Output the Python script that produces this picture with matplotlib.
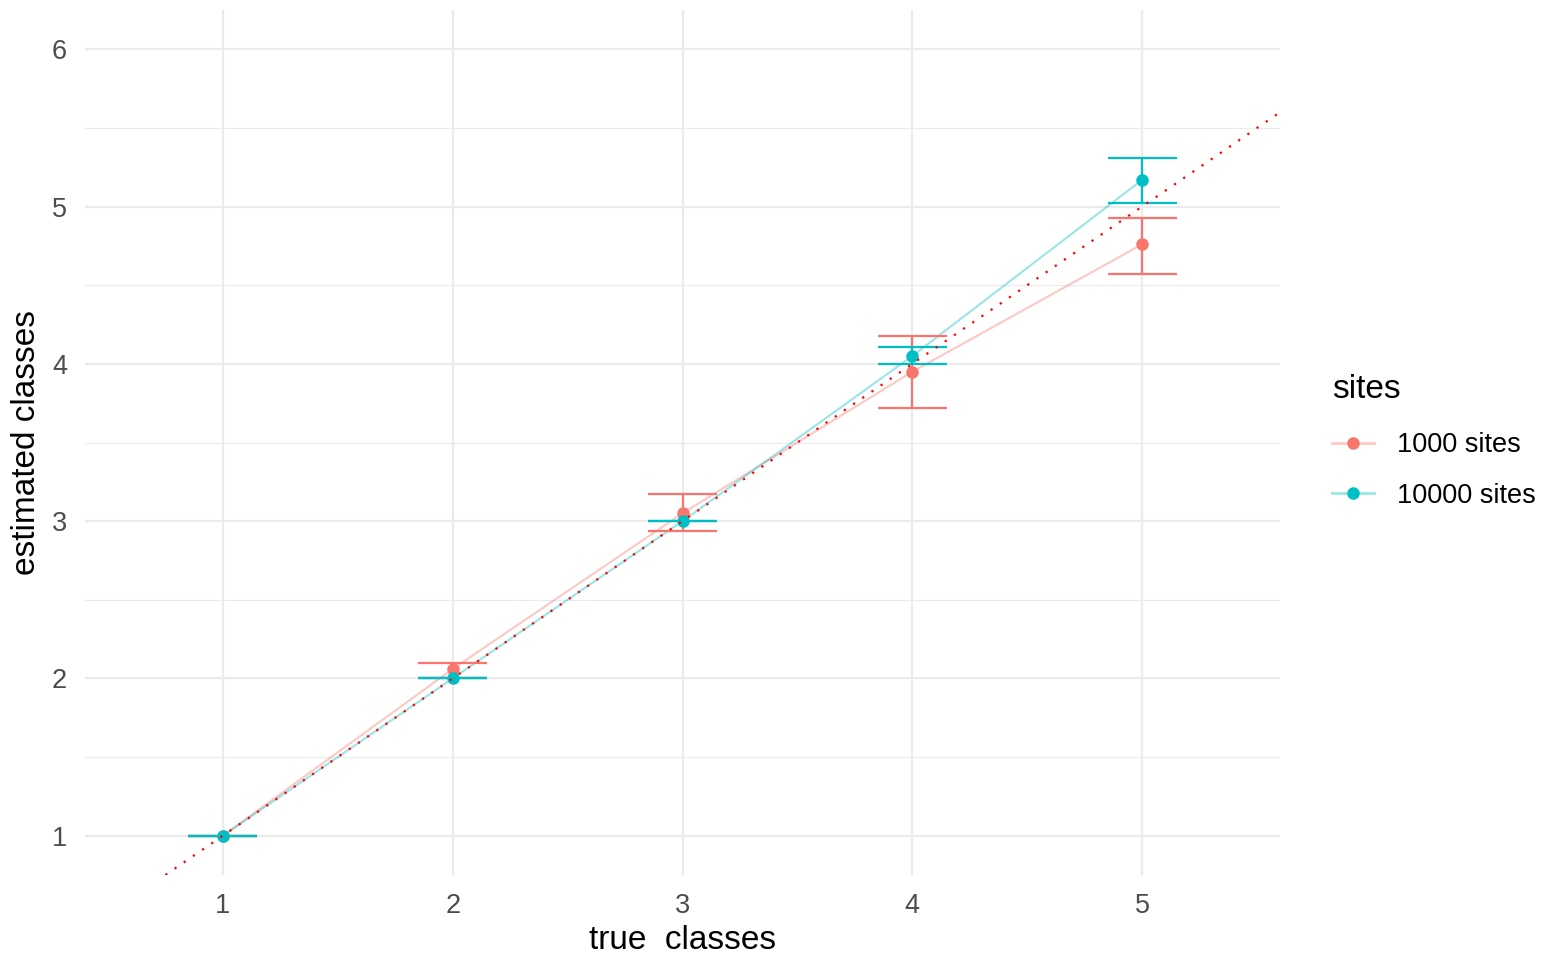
import matplotlib
matplotlib.use("Agg")
import matplotlib.pyplot as plt
from matplotlib.lines import Line2D
from matplotlib.legend_handler import HandlerTuple

# ---- data ----
true_classes = [1, 2, 3, 4, 5]
x_tick_labels = ["1", "2", "3", "4", "5"]
y_ticks = [1, 2, 3, 4, 5, 6]

est_1000 = [1.00, 2.06, 3.05, 3.95, 4.76]
lo_1000 = [1.00, 2.00, 2.94, 3.72, 4.57]
hi_1000 = [1.00, 2.10, 3.17, 4.18, 4.93]

est_10000 = [1.00, 2.00, 3.00, 4.05, 5.17]
lo_10000 = [1.00, 2.00, 3.00, 4.00, 5.02]
hi_10000 = [1.00, 2.00, 3.00, 4.11, 5.31]

series_names = ["1000 sites", "10000 sites"]
legend_title = "sites"

RED = "#F8766D"
CYAN = "#00BFC4"

plt.rcParams['font.family'] = ['Liberation Sans', 'DejaVu Sans']

W, H = 1550, 957
fig = plt.figure(figsize=(W / 100, H / 100), dpi=100)
ax = fig.add_axes([85 / W, 1 - 875 / H, (1280 - 85) / W, (875 - 10) / H])

ax.set_xlim(0.4, 5.6)
ax.set_ylim(0.75, 6.25)
for s in ax.spines.values():
    s.set_visible(False)

ax.set_xticks(true_classes)
ax.set_xticklabels(x_tick_labels)
ax.set_yticks(y_ticks)
ax.set_yticks([1.5, 2.5, 3.5, 4.5, 5.5], minor=True)
ax.tick_params(axis='both', which='both', length=0, labelsize=19.5, labelcolor='#4D4D4D')
ax.tick_params(axis='x', pad=13)
ax.tick_params(axis='y', pad=13)
ax.grid(True, which='major', color='#EBEBEB', linewidth=1.6)
ax.grid(True, which='minor', axis='y', color='#EBEBEB', linewidth=0.8)
ax.set_axisbelow(True)

cap = 0.15
for est, lo, hi, col in [(est_1000, lo_1000, hi_1000, RED),
                         (est_10000, lo_10000, hi_10000, CYAN)]:
    ax.plot(true_classes, est, color=col, alpha=0.4, linewidth=1.5, zorder=2)
    ax.vlines(true_classes, lo, hi, color=col, linewidth=1.6, zorder=3)
    ax.hlines(lo, [t - cap for t in true_classes], [t + cap for t in true_classes],
              color=col, linewidth=1.6, zorder=3)
    ax.hlines(hi, [t - cap for t in true_classes], [t + cap for t in true_classes],
              color=col, linewidth=1.6, zorder=3)
    ax.plot(true_classes, est, linestyle='none', marker='o', markersize=8,
            color=col, zorder=4)

# identity line
ax.axline((1, 1), slope=1, color='red', linestyle=(0, (1, 4)), linewidth=1.6, zorder=5)

ax.set_xlabel("true  classes", fontsize=24, color='black')
ax.set_ylabel("estimated classes", fontsize=24, color='black')
ax.xaxis.set_label_coords(0.5, -0.058)
ax.yaxis.set_label_coords(-0.036, 0.5)

handles = []
for col in [RED, CYAN]:
    ln = Line2D([], [], color=col, alpha=0.4, linewidth=2)
    mk = Line2D([], [], color=col, marker='o', markersize=8, linestyle='none')
    handles.append((ln, mk))
leg = fig.legend(handles, series_names, title=legend_title,
                 handler_map={tuple: HandlerTuple(ndivide=1)},
                 loc='upper left', bbox_to_anchor=(1310 / W, 1 - 352 / H),
                 frameon=False, fontsize=19.5, title_fontsize=24,
                 handlelength=1.55, handletextpad=0.85, labelspacing=0.9,
                 borderpad=0.3)
leg._legend_box.align = "left"
leg._legend_box.sep = 20

fig.savefig("out.png", dpi=100, facecolor='white')
